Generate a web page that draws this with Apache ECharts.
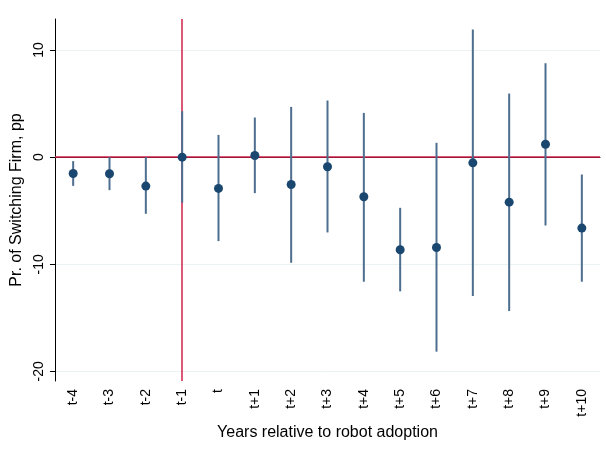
<!DOCTYPE html>
<html>
<head>
<meta charset="utf-8">
<script src="https://cdn.jsdelivr.net/npm/echarts@6/dist/echarts.min.js"></script>
<style>
  html, body { margin: 0; padding: 0; background: #fff; }
  #main { width: 606px; height: 455px; }
</style>
</head>
<body>
<div id="main"></div>
<script>
// event-time categories
var years = ['t-4', 't-3', 't-2', 't-1', 't', 't+1', 't+2', 't+3', 't+4', 't+5', 't+6', 't+7', 't+8', 't+9', 't+10'];
// point estimates, pp
var coef = [-1.53, -1.55, -2.7, 0, -2.92, 0.16, -2.55, -0.9, -3.7, -8.64, -8.43, -0.53, -4.2, 1.21, -6.62];
// 95% CI
var ciLow = [-2.68, -3.08, -5.29, -4.26, -7.84, -3.36, -9.86, -7.03, -11.63, -12.53, -18.16, -12.97, -14.37, -6.38, -11.63];
var ciHigh = [-0.37, 0.0, 0.0, 4.29, 2.08, 3.7, 4.69, 5.29, 4.13, -4.73, 1.34, 11.91, 5.94, 8.77, -1.62];
var yTicks = [-20, -10, 0, 10];

var chart = echarts.init(document.getElementById('main'));

var ciData = years.map(function (y, i) { return [i, ciLow[i], ciHigh[i]]; });
var dotData = years.map(function (y, i) { return [i, coef[i]]; });

var font = 'Liberation Sans, Arial, sans-serif';

var option = {
  animation: false,
  grid: { left: 55, right: 6, top: 19, bottom: 74 },
  xAxis: {
    type: 'category',
    data: years,
    name: 'Years relative to robot adoption',
    nameLocation: 'middle',
    nameGap: 40,
    nameTextStyle: { fontFamily: font, fontSize: 16, color: '#000' },
    axisLine: { lineStyle: { color: '#000', width: 1 } },
    axisTick: { alignWithLabel: true, length: 5, lineStyle: { color: '#000' } },
    axisLabel: { rotate: 90, margin: 8, fontFamily: font, fontSize: 14, color: '#000' },
    splitLine: { show: false }
  },
  yAxis: {
    type: 'value',
    min: -20.9,
    max: 12.9,
    name: 'Pr. of Switching Firm, pp',
    nameLocation: 'middle',
    nameGap: 27,
    nameTextStyle: { fontFamily: font, fontSize: 16, color: '#000' },
    axisLine: { show: true, lineStyle: { color: '#000', width: 1 } },
    axisTick: { show: true, length: 5, customValues: yTicks, lineStyle: { color: '#000' } },
    axisLabel: { rotate: 90, margin: 9, customValues: yTicks, fontFamily: font, fontSize: 14, color: '#000' },
    splitLine: { show: true, lineStyle: { color: '#eaf2f3', width: 1 } }
  },
  series: [
    {
      // reference lines at zero and at t-1, drawn beneath the estimates
      type: 'line',
      data: [],
      z: 1,
      markLine: {
        z: 1,
        silent: true,
        symbol: 'none',
        label: { show: false },
        lineStyle: { color: '#d0204a', width: 1.5, type: 'solid' },
        data: [
          { yAxis: 0 },
          { xAxis: 't-1' }
        ]
      }
    },
    {
      type: 'custom',
      data: ciData,
      z: 3,
      renderItem: function (params, api) {
        var p1 = api.coord([api.value(0), api.value(1)]);
        var p2 = api.coord([api.value(0), api.value(2)]);
        return {
          type: 'line',
          shape: { x1: p1[0], y1: p1[1], x2: p2[0], y2: p2[1] },
          style: { stroke: '#4d6e8f', lineWidth: 2 }
        };
      }
    },
    {
      type: 'scatter',
      data: dotData,
      z: 5,
      symbol: 'circle',
      symbolSize: 9,
      itemStyle: { color: '#1a476f', opacity: 1 }
    }
  ]
};

chart.setOption(option);
</script>
</body>
</html>
